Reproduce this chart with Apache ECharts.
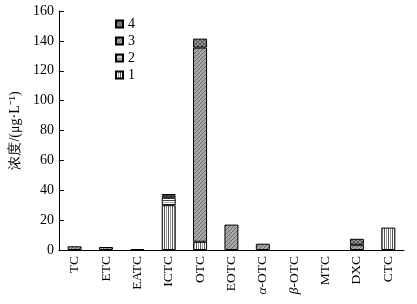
<!DOCTYPE html>
<html><head><meta charset="utf-8">
<script src="https://cdn.jsdelivr.net/npm/echarts@6/dist/echarts.min.js"></script>
<style>html,body{margin:0;padding:0;background:#fff}#c{width:417px;height:304px}</style>
</head><body><div id="c"></div>
<script>
var categories = ['TC','ETC','EATC','ICTC','OTC','EOTC','α-OTC','β-OTC','MTC','DXC','CTC'];
var s1 = [0, 0, 0, 30, 5.5, 0, 0, 0, 0, 0, 15];
var s2 = [0, 0, 0, 5, 0, 0, 0, 0, 0, 0, 0];
var s3 = [2.5, 2, 0.6, 1.5, 130, 17, 4.2, 0, 0, 3.5, 0];
var s4 = [0, 0, 0, 1, 6, 0, 0, 0, 0, 4, 0];
var yTicks = [0, 20, 40, 60, 80, 100, 120, 140, 160];

function pat(type){
  var c = document.createElement('canvas');
  c.width = 4; c.height = 4;
  var g = c.getContext('2d');
  if (type === 1){ g.fillStyle='#fff'; g.fillRect(0,0,4,4); g.fillStyle='#555'; g.fillRect(0,0,1,4); g.fillStyle='#999'; g.fillRect(2,0,1,4);} 
  else if (type === 2){ g.fillStyle='#fff'; g.fillRect(0,0,4,4); g.fillStyle='#444'; g.fillRect(0,0,4,1); g.fillStyle='#aaa'; g.fillRect(0,2,4,1);} 
  else if (type === 3){ g.fillStyle='#a8a8a8'; g.fillRect(0,0,4,4); g.fillStyle='#666'; for(var i=0;i<4;i++){g.fillRect(i,3-i,1,1);} }
  else { g.fillStyle='#999'; g.fillRect(0,0,4,4); g.fillStyle='#555'; for(var j=0;j<4;j++){g.fillRect(j,3-j,1,1);g.fillRect(j,j,1,1);} }
  return {image: c, repeat: 'repeat'};
}
var font = '"Liberation Serif", "Times New Roman", serif';
function mk(name, data, t){
  return {name: name, type: 'bar', stack: 'a', barWidth: 14,
    data: data.map(function(v){ return v === 0 ? '-' : v; }),
    itemStyle: {color: pat(t), borderColor: '#000', borderWidth: 1}};
}
var chart = echarts.init(document.getElementById('c'));
chart.setOption({
  animation: false,
  grid: {left: 53, right: 13, top: 11, bottom: 54},
  legend: {data: ['4','3','2','1'], orient: 'vertical', left: 115, top: 17, itemWidth: 7, itemHeight: 7, itemGap: 3,
    icon: 'rect', padding: 0,
    textStyle: {fontFamily: font, fontSize: 14, lineHeight: 14, color: '#000'}},
  xAxis: {type: 'category', data: categories,
    axisLine: {lineStyle: {color: '#000'}},
    axisTick: {alignWithLabel: true, inside: true, length: 5, lineStyle: {color: '#000'}},
    axisLabel: {rotate: 90, fontFamily: font, fontSize: 13.5, color: '#000', margin: 6,
      formatter: function(v){
        if (v.charAt(0) === 'α' || v.charAt(0) === 'β') return '{i|' + v.charAt(0) + '}' + v.slice(1);
        return v;
      },
      rich: {i: {fontStyle: 'italic', fontFamily: font, fontSize: 13.5, color: '#000'}}}},
  yAxis: {type: 'value', min: 0, max: 160, interval: 20,
    name: '浓度/(μg·L⁻¹)', nameLocation: 'middle', nameGap: 35, nameRotate: 90,
    nameTextStyle: {fontFamily: font, fontSize: 14, color: '#000'},
    splitLine: {show: false},
    axisLine: {show: true, lineStyle: {color: '#000'}},
    axisTick: {show: true, inside: true, length: 5, lineStyle: {color: '#000'}},
    axisLabel: {fontFamily: font, fontSize: 14, color: '#000', margin: 5,
      formatter: function(v){ return yTicks.indexOf(v) >= 0 ? String(v) : ''; }}},
  series: [mk('1', s1, 1), mk('2', s2, 2), mk('3', s3, 3), mk('4', s4, 4)]
});
</script></body></html>
